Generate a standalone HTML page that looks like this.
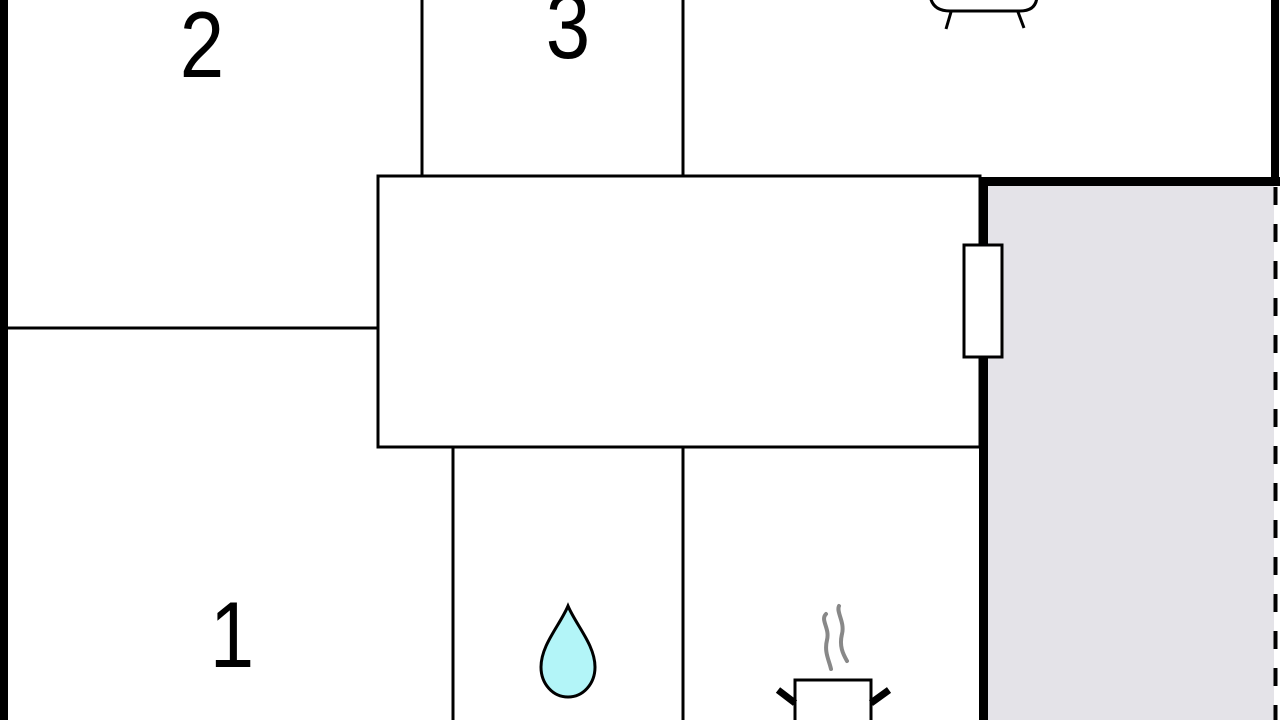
<!DOCTYPE html>
<html><head><style>html,body{margin:0;padding:0;background:#fff;overflow:hidden}</style></head>
<body>
<svg width="1280" height="720" viewBox="0 0 1280 720" xmlns="http://www.w3.org/2000/svg" style="display:block">
<rect x="0" y="0" width="1280" height="720" fill="#fff"/>
<rect x="988" y="185" width="286" height="535" fill="#e4e3e8"/>
<rect x="0" y="0" width="8" height="720" fill="#000"/>
<rect x="1271" y="0" width="8" height="185" fill="#000"/>
<rect x="979" y="177" width="301" height="9" fill="#000"/>
<rect x="979" y="177" width="9" height="543" fill="#000"/>
<line x1="1275.5" y1="187" x2="1275.5" y2="720" stroke="#000" stroke-width="4" stroke-dasharray="18,19"/>
<g stroke="#000" stroke-width="3" fill="none">
<line x1="422" y1="0" x2="422" y2="176"/>
<line x1="683" y1="0" x2="683" y2="176"/>
<line x1="683" y1="176" x2="980" y2="176"/>
<rect x="378" y="176" width="602" height="271" fill="#fff"/>
<line x1="8" y1="328" x2="378" y2="328"/>
<line x1="453" y1="447" x2="453" y2="720"/>
<line x1="683" y1="447" x2="683" y2="720"/>
</g>
<rect x="964" y="245" width="38" height="112" fill="#fff" stroke="#000" stroke-width="3"/>
<path d="M930,-5 Q932,11 950,11 L1020,11 Q1037,11 1037,-5" fill="none" stroke="#000" stroke-width="3"/>
<line x1="951" y1="12" x2="946" y2="29" stroke="#000" stroke-width="3"/>
<line x1="1018" y1="12" x2="1024" y2="28" stroke="#000" stroke-width="3"/>
<path d="M568,606 C560,625 541,645 541,667 C541,684 553,697 568,697 C583,697 595,684 595,667 C595,645 576,625 568,606 Z" fill="#b3f5f8" stroke="#000" stroke-width="3"/>
<path d="M826,614 C820,620 830,628 827,640 C824,652 829,660 831,669" fill="none" stroke="#888" stroke-width="4" stroke-linecap="round"/>
<path d="M839,606 C836,612 845,622 842,634 C839,646 843,654 847,661" fill="none" stroke="#888" stroke-width="4" stroke-linecap="round"/>
<rect x="795" y="680" width="76" height="50" fill="#fff" stroke="#000" stroke-width="3"/>
<line x1="778" y1="690" x2="795" y2="703" stroke="#000" stroke-width="7"/>
<line x1="889" y1="690" x2="871" y2="703" stroke="#000" stroke-width="7"/>
<g font-family="Liberation Sans, sans-serif" font-size="94" fill="#000" text-anchor="middle">
<text x="202" y="77" transform="translate(202 77) scale(0.85 1) translate(-202 -77)">2</text>
<text x="568" y="58" transform="translate(568 58) scale(0.85 1) translate(-568 -58)">3</text>
<text x="232" y="667" transform="translate(232 667) scale(0.85 1) translate(-232 -667)">1</text>
</g>
</svg>
</body></html>
